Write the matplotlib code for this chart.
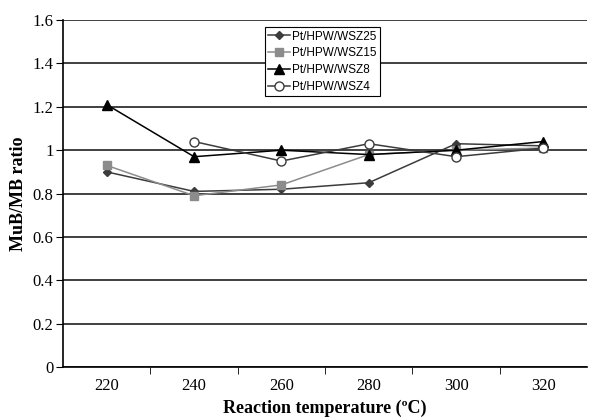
import matplotlib.pyplot as plt
import numpy as np

temps = ['220', '240', '260', '280', '300', '320']
wsz25 = [0.90, 0.81, 0.82, 0.85, 1.03, 1.02]
wsz15 = [0.93, 0.79, 0.84, 0.98, 1.00, 1.01]
wsz8 = [1.21, 0.97, 1.00, 0.98, 1.00, 1.04]
wsz4 = [np.nan, 1.04, 0.95, 1.03, 0.97, 1.01]

fig = plt.figure(figsize=(5.9, 4.19), dpi=100)
ax = fig.add_axes([0.107, 0.124, 0.888, 0.828])

x = np.arange(len(temps))
ax.plot(x, wsz25, color='#3c3c3c', marker='D', markersize=4.5, lw=1.1, label='Pt/HPW/WSZ25')
ax.plot(x, wsz15, color='#8c8c8c', marker='s', markersize=6, lw=1.1, label='Pt/HPW/WSZ15')
ax.plot(x, wsz8, color='black', marker='^', markersize=6.5, lw=1.1, label='Pt/HPW/WSZ8')
ax.plot(x, wsz4, color='#3c3c3c', marker='o', markersize=6.5, mfc='white', mec='#3c3c3c', lw=1.1, label='Pt/HPW/WSZ4')

ax.set_xlim(-0.5, 5.5)
ax.set_ylim(0, 1.6)
ax.set_yticks(np.arange(0, 1.61, 0.2))
ax.set_yticklabels(['0', '0.2', '0.4', '0.6', '0.8', '1', '1.2', '1.4', '1.6'])
ax.set_xticks(x)
ax.set_xticklabels(temps)
ax.set_xticks(np.arange(0.5, 5.0, 1.0), minor=True)
ax.tick_params(axis='x', which='major', length=0, pad=8)
ax.tick_params(axis='x', which='minor', length=5, direction='out', color='black')
ax.tick_params(axis='y', length=5, direction='out', pad=2)
for lab in ax.get_xticklabels() + ax.get_yticklabels():
    lab.set_fontfamily('Liberation Serif')
    lab.set_fontsize(12)

ax.yaxis.grid(True, color='#202020', lw=1.2)
ax.set_axisbelow(True)
for s in ['top', 'right']:
    ax.spines[s].set_visible(False)
ax.spines['left'].set_linewidth(1.2)
ax.spines['bottom'].set_linewidth(1.2)

ax.set_xlabel('Reaction temperature (ºC)', fontfamily='Liberation Serif', fontweight='bold', fontsize=13, labelpad=4)
ax.set_ylabel('MuB/MB ratio', fontfamily='Liberation Serif', fontweight='bold', fontsize=13, labelpad=4)

leg = ax.legend(loc='upper left', bbox_to_anchor=(0.385, 0.98), prop={'family': 'Liberation Sans', 'size': 8.5},
                frameon=True, fancybox=False, edgecolor='black', framealpha=1, handlelength=1.8,
                borderpad=0.3, labelspacing=0.4, handletextpad=0.2, borderaxespad=0)
leg.get_frame().set_linewidth(0.8)

fig.savefig('out.png', dpi=100)
